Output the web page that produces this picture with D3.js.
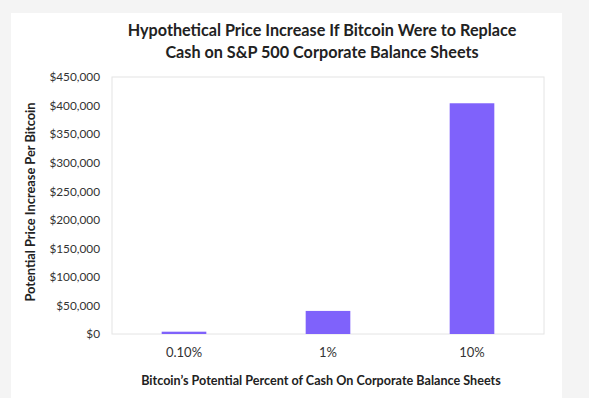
<!DOCTYPE html>
<html>
<head>
<meta charset="utf-8">
<script src="https://cdn.jsdelivr.net/npm/d3@7"></script>
<style>
  body { margin: 0; background: #f4f4f4; font-family: Lato, "Open Sans", sans-serif; }
  svg { display: block; }
</style>
</head>
<body>
<svg id="chart" width="589" height="398"></svg>
<script>
var categories = ["0.10%", "1%", "10%"];
var values = [4040, 40400, 404000];
var yTicks = [0, 50000, 100000, 150000, 200000, 250000, 300000, 350000, 400000, 450000];
var titleLines = ["Hypothetical Price Increase If Bitcoin Were to Replace",
                  "Cash on S&P 500 Corporate Balance Sheets"];

var svg = d3.select("#chart");
var plot = { left: 112, right: 544, top: 77, bottom: 334 };

// white card
svg.append("rect")
  .attr("x", 11).attr("y", 13)
  .attr("width", 551).attr("height", 400)
  .attr("fill", "#fff");

// title
svg.selectAll(".title")
  .data(titleLines)
  .enter().append("text")
  .attr("x", 322)
  .attr("y", function(d, i) { return 36 + i * 22; })
  .attr("text-anchor", "middle")
  .attr("font-size", 16.2)
  .attr("font-weight", "bold")
  .attr("fill", "#222")
  .text(function(d) { return d; });

var x = d3.scaleBand()
  .domain(categories)
  .range([plot.left, plot.right])
  .paddingInner(0.69)
  .paddingOuter(0.345);

var y = d3.scaleLinear()
  .domain([0, 450000])
  .range([plot.bottom, plot.top]);

// frame
svg.append("rect")
  .attr("x", plot.left).attr("y", plot.top)
  .attr("width", plot.right - plot.left)
  .attr("height", plot.bottom - plot.top)
  .attr("fill", "none")
  .attr("stroke", "#e4e4e4");

var fmt = d3.format("$,");

var yAxis = svg.append("g")
  .attr("transform", "translate(" + plot.left + ",0)")
  .call(d3.axisLeft(y).tickValues(yTicks).tickFormat(fmt).tickSize(0).tickPadding(12));
yAxis.select(".domain").remove();
yAxis.selectAll("text")
  .attr("font-family", "Lato, sans-serif")
  .attr("font-size", 11.8)
  .attr("fill", "#333");

var xAxis = svg.append("g")
  .attr("transform", "translate(0," + plot.bottom + ")")
  .call(d3.axisBottom(x).tickSize(0).tickPadding(14));
xAxis.select(".domain").remove();
xAxis.selectAll("text")
  .attr("font-family", "Lato, sans-serif")
  .attr("font-size", 13)
  .attr("fill", "#333");

// bars
svg.selectAll(".bar")
  .data(values)
  .enter().append("rect")
  .attr("class", "bar")
  .attr("x", function(d, i) { return x(categories[i]); })
  .attr("width", x.bandwidth())
  .attr("y", function(d) { return y(d); })
  .attr("height", function(d) { return plot.bottom - y(d); })
  .attr("fill", "#7f62fb");

// axis titles
svg.append("text")
  .attr("x", 321).attr("y", 385)
  .attr("text-anchor", "middle")
  .attr("font-size", 12.6)
  .attr("font-weight", "bold")
  .attr("fill", "#222")
  .text("Bitcoin\u2019s Potential Percent of Cash On Corporate Balance Sheets");

svg.append("text")
  .attr("transform", "translate(35,202) rotate(-90)")
  .attr("text-anchor", "middle")
  .attr("font-size", 12.8)
  .attr("font-weight", "bold")
  .attr("fill", "#222")
  .text("Potential Price Increase Per Bitcoin");
</script>
</body>
</html>
